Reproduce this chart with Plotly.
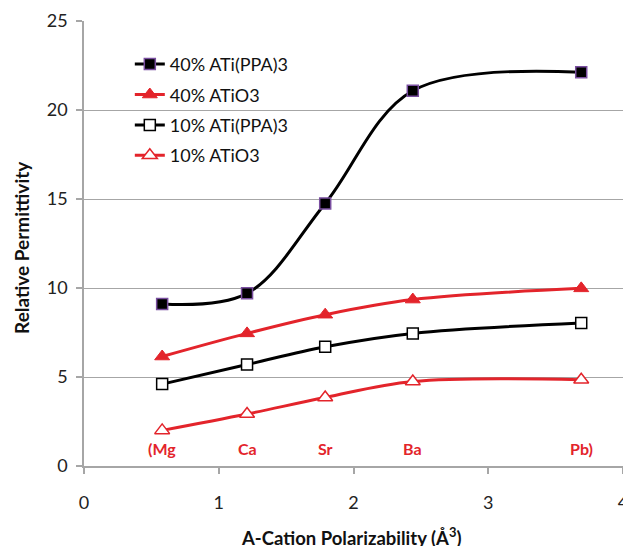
import plotly.graph_objects as go

# Data
polarizability = [0.58, 1.21, 1.79, 2.44, 3.69]
cation_labels = ["(Mg", "Ca", "Sr", "Ba", "Pb)"]
label_y = [1.0, 1.0, 1.0, 1.0, 1.0]

series_names = ["40% ATi(PPA)3", "40% ATiO3", "10% ATi(PPA)3", "10% ATiO3"]
ppa40 = [9.1, 9.7, 14.75, 21.08, 22.12]
atio40 = [6.15, 7.45, 8.5, 9.35, 9.98]
ppa10 = [4.6, 5.7, 6.7, 7.45, 8.03]
atio10 = [2.0, 2.92, 3.85, 4.75, 4.85]

x_ticks = [0, 1, 2, 3, 4]
y_ticks = [0, 5, 10, 15, 20, 25]

RED = "#E3242B"
BLACK = "#000000"
PURPLE = "#7A4FA0"
GRID = "#A6A6A6"
FONT = "Lato"

fig = go.Figure()

styles = [
    dict(line=dict(color=BLACK, width=3, shape="spline", smoothing=1.0),
         marker=dict(symbol="square", size=11, color=BLACK, line=dict(color=PURPLE, width=1.5))),
    dict(line=dict(color=RED, width=3, shape="spline", smoothing=1.0),
         marker=dict(symbol="triangle-up", size=13, color=RED, line=dict(color=RED, width=1))),
    dict(line=dict(color=BLACK, width=3, shape="spline", smoothing=1.0),
         marker=dict(symbol="square", size=11, color="white", line=dict(color=BLACK, width=1.5))),
    dict(line=dict(color=RED, width=3, shape="spline", smoothing=1.0),
         marker=dict(symbol="triangle-up", size=13, color="white", line=dict(color=RED, width=1.5))),
]

for i, (name, ys) in enumerate(zip(series_names, [ppa40, atio40, ppa10, atio10])):
    fig.add_trace(go.Scatter(
        x=polarizability, y=ys, name=name, mode="lines+markers",
        legendgroup=f"g{i}", **styles[i]))

for xv, yv, txt in zip(polarizability, label_y, cation_labels):
    fig.add_annotation(x=xv, y=yv, text=f"<b>{txt}</b>", showarrow=False,
                       font=dict(family=FONT, size=16, color=RED),
                       xanchor="center", yanchor="middle")

# Axis titles
fig.add_annotation(xref="paper", yref="paper", x=0.497, y=0, yshift=-70,
                   text="<b>A-Cation Polarizability (Å<sup>3</sup>)</b>", showarrow=False,
                   font=dict(family=FONT, size=18.5, color="#111111"),
                   xanchor="center", yanchor="middle")
fig.add_annotation(xref="paper", yref="paper", x=0, xshift=-62, y=0.49,
                   text="<b>Relative Permittivity</b>", showarrow=False, textangle=-90,
                   font=dict(family=FONT, size=19, color="#111111"),
                   xanchor="center", yanchor="middle")

fig.update_layout(
    width=623, height=538,
    margin=dict(l=76, r=8, t=13, b=80),
    plot_bgcolor="white", paper_bgcolor="white",
    font=dict(family=FONT, size=18, color="#222222"),
    showlegend=True,
    legend=dict(
        x=0.085, y=0.944, xanchor="left", yanchor="top",
        bgcolor="rgba(0,0,0,0)", traceorder="grouped", tracegroupgap=4,
        font=dict(family=FONT, size=18, color="#111111"),
        itemwidth=30,
    ),
    xaxis=dict(
        range=[0, 4], tickvals=x_ticks, showgrid=False, zeroline=False,
        showline=True, linecolor=GRID, linewidth=1.5,
        ticks="outside", ticklen=6, tickcolor=GRID, tickwidth=1.5,
        ticklabelstandoff=14, automargin=False,
    ),
    yaxis=dict(
        range=[0, 25], tickvals=y_ticks, showgrid=True, gridcolor=GRID, gridwidth=1,
        zeroline=False, showline=True, linecolor=GRID, linewidth=1.5,
        ticks="outside", ticklen=6, tickcolor=GRID, tickwidth=1.5,
        ticklabelstandoff=5, automargin=False,
    ),
)

fig.write_html("out.html")
